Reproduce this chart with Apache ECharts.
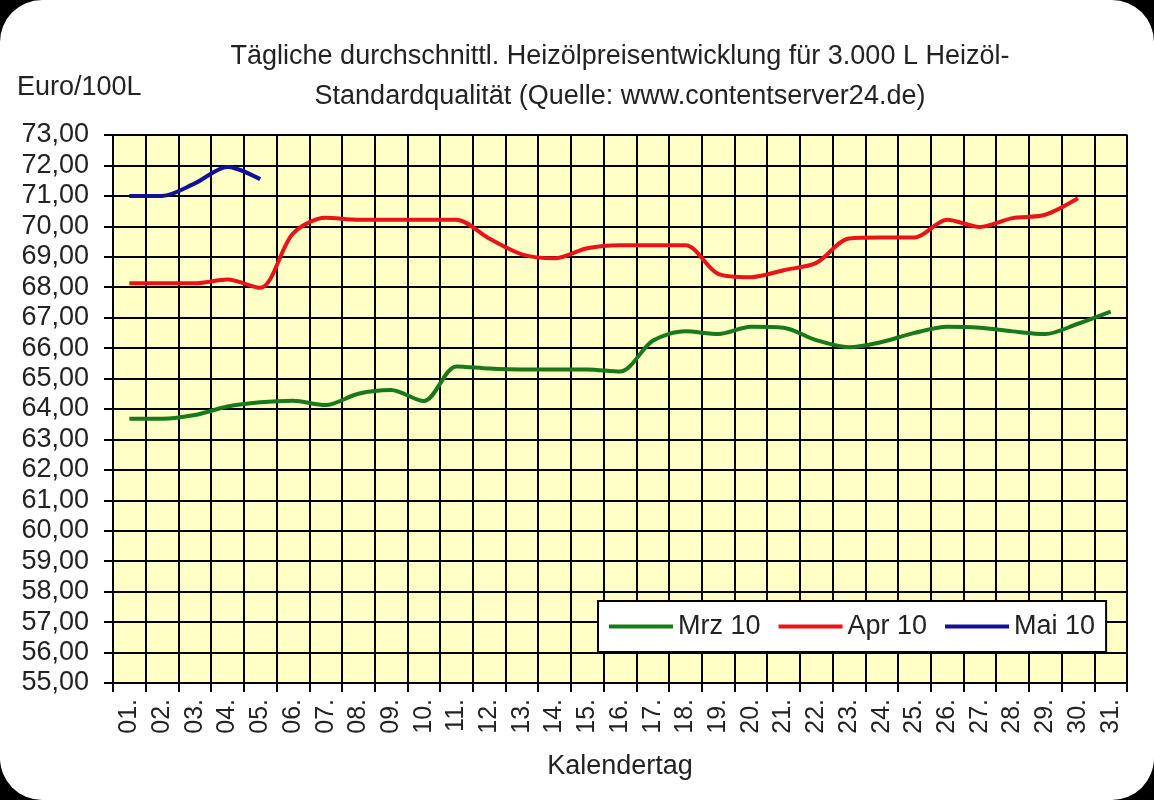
<!DOCTYPE html>
<html>
<head>
<meta charset="utf-8">
<script src="https://cdn.jsdelivr.net/npm/echarts@6/dist/echarts.min.js"></script>
<style>
  html, body { margin: 0; padding: 0; background: #000; }
  #frame { width: 1154px; height: 800px; background: #fff; border-radius: 42px; overflow: hidden; }
  #chart { width: 1154px; height: 800px; }
</style>
</head>
<body>
<div id="frame"><div id="chart"></div></div>
<script>
const days = ["01.", "02.", "03.", "04.", "05.", "06.", "07.", "08.", "09.", "10.",
  "11.", "12.", "13.", "14.", "15.", "16.", "17.", "18.", "19.", "20.",
  "21.", "22.", "23.", "24.", "25.", "26.", "27.", "28.", "29.", "30.", "31."];

const mrz10 = [63.68, 63.68, 63.80, 64.08, 64.22, 64.27, 64.13, 64.50, 64.62, 64.26,
  65.40, 65.33, 65.30, 65.30, 65.30, 65.23, 66.24, 66.55, 66.46, 66.70,
  66.67, 66.26, 66.03, 66.20, 66.50, 66.70, 66.67, 66.55, 66.46, 66.80, 67.20];

const apr10 = [68.13, 68.13, 68.13, 68.25, 67.98, 69.76, 70.28, 70.22, 70.22, 70.22,
  70.22, 69.60, 69.08, 68.95, 69.28, 69.38, 69.38, 69.38, 68.44, 68.33,
  68.56, 68.80, 69.60, 69.63, 69.63, 70.22, 69.98, 70.27, 70.38, 70.92];

const mai10 = [71.00, 71.00, 71.41, 71.95, 71.55];

const seriesNames = ["Mrz 10", "Apr 10", "Mai 10"];
const seriesColors = ["#18781a", "#e8141a", "#10109a"];

const chart = echarts.init(document.getElementById("chart"));
const font = "'Liberation Sans', Arial, sans-serif";

function lineSeries(name, data, color) {
  return {
    name: name,
    type: "line",
    data: data,
    smooth: 0.3,
    showSymbol: false,
    color: color,
    lineStyle: { color: color, width: 4 },
  };
}

chart.setOption({
  animation: false,
  backgroundColor: "transparent",
  textStyle: { fontFamily: font, color: "#222" },
  title: {
    text: "Tägliche durchschnittl. Heizölpreisentwicklung für 3.000 L Heizöl-\nStandardqualität (Quelle: www.contentserver24.de)",
    left: 615,
    top: 32,
    textAlign: "center",
    textStyle: { fontFamily: font, fontSize: 27, fontWeight: "normal", color: "#222", lineHeight: 40 },
  },
  graphic: [
    {
      type: "text",
      left: 17,
      top: 74,
      style: { text: "Euro/100L", font: "27px " + font, fill: "#222" },
    },
  ],
  legend: {
    left: 598,
    top: 601,
    orient: "horizontal",
    data: seriesNames,
    icon: "rect",
    itemWidth: 64,
    itemHeight: 4,
    itemGap: 18,
    padding: [12, 11],
    backgroundColor: "#fff",
    borderColor: "#000",
    borderWidth: 2,
    textStyle: { fontFamily: font, fontSize: 27, color: "#222" },
  },
  grid: {
    left: 113,
    right: 27,
    top: 135,
    bottom: 117,
    show: true,
    backgroundColor: "#ffffc6",
    borderColor: "#888",
    borderWidth: 2,
  },
  xAxis: {
    type: "category",
    data: days,
    boundaryGap: true,
    name: "Kalendertag",
    nameLocation: "middle",
    nameGap: 70,
    nameTextStyle: { fontFamily: font, fontSize: 27, color: "#222" },
    axisLine: { lineStyle: { color: "#000", width: 2 } },
    axisTick: { show: true, interval: 0, length: 9, lineStyle: { color: "#000", width: 2 } },
    axisLabel: { interval: 0, rotate: 90, margin: 16, fontFamily: font, fontSize: 25, color: "#222" },
    splitLine: { show: true, interval: 0, lineStyle: { color: "#000", width: 2 } },
  },
  yAxis: {
    type: "value",
    min: 55,
    max: 73,
    interval: 1,
    axisLine: { show: true, lineStyle: { color: "#000", width: 2 } },
    axisTick: { show: true, length: 9, lineStyle: { color: "#000", width: 2 } },
    axisLabel: {
      margin: 24,
      fontFamily: font,
      fontSize: 27,
      color: "#222",
      formatter: (v) => v.toFixed(2).replace(".", ","),
    },
    splitLine: { show: true, lineStyle: { color: "#000", width: 2 } },
  },
  series: [
    lineSeries(seriesNames[0], mrz10, seriesColors[0]),
    lineSeries(seriesNames[1], apr10, seriesColors[1]),
    lineSeries(seriesNames[2], mai10, seriesColors[2]),
  ],
});
</script>
</body>
</html>
